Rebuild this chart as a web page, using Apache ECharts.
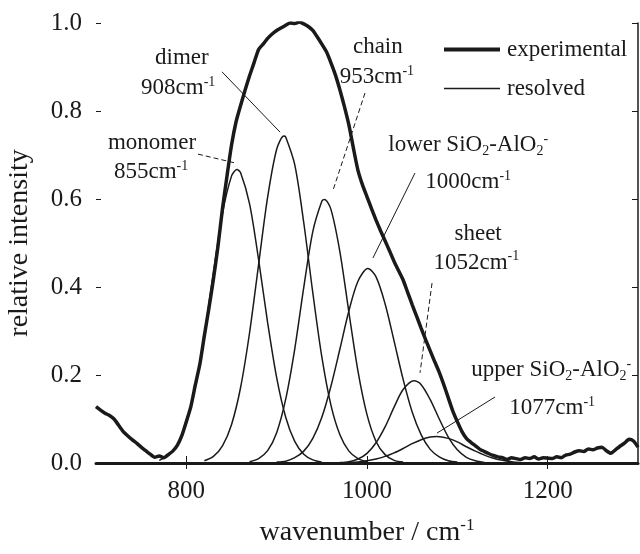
<!DOCTYPE html>
<html>
<head>
<meta charset="utf-8">
<script src="https://cdn.jsdelivr.net/npm/echarts@6/dist/echarts.min.js"></script>
<style>
html, body { margin: 0; padding: 0; background: #fff; }
#irFit { width: 640px; height: 554px; }
</style>
</head>
<body>
<div id="irFit"></div>
<script>
// 刻度
const xTicks = [800, 1000, 1200]
const yTicks = [0, 0.2, 0.4, 0.6, 0.8, 1.0]

// experimental spectrum [wavenumber, intensity]
const experimental = [
    [700, 0.128], [705, 0.120], [710, 0.113], [715, 0.108], [720, 0.100], [725, 0.086], [730, 0.072],
    [735, 0.062], [740, 0.053], [745, 0.045], [750, 0.036], [755, 0.028], [760, 0.020], [765, 0.013],
    [770, 0.016], [775, 0.012], [780, 0.019], [785, 0.027], [790, 0.040], [795, 0.062], [800, 0.094],
    [805, 0.128], [810, 0.178], [815, 0.225], [820, 0.290], [825, 0.352], [830, 0.418], [835, 0.492],
    [840, 0.578], [845, 0.652], [850, 0.722], [855, 0.775], [860, 0.812], [865, 0.847], [870, 0.880],
    [875, 0.910], [880, 0.940], [885, 0.952], [890, 0.965], [895, 0.975], [900, 0.983], [905, 0.989],
    [910, 0.995], [915, 1.000], [920, 0.999], [925, 1.002], [930, 0.998], [935, 0.992], [940, 0.983],
    [945, 0.968], [950, 0.952], [955, 0.935], [960, 0.910], [965, 0.882], [970, 0.848], [975, 0.810],
    [980, 0.768], [985, 0.715], [990, 0.665], [995, 0.632], [1000, 0.605], [1005, 0.578], [1010, 0.552],
    [1015, 0.528], [1020, 0.505], [1025, 0.482], [1030, 0.458], [1035, 0.437], [1040, 0.416], [1045, 0.388],
    [1050, 0.360], [1055, 0.333], [1060, 0.306], [1065, 0.280], [1070, 0.255], [1075, 0.230], [1080, 0.206],
    [1085, 0.178], [1090, 0.148], [1095, 0.118], [1100, 0.094], [1105, 0.072], [1110, 0.056], [1115, 0.047],
    [1120, 0.039], [1125, 0.031], [1130, 0.026], [1135, 0.021], [1140, 0.017], [1145, 0.014], [1150, 0.012],
    [1155, 0.008], [1160, 0.012], [1165, 0.010], [1170, 0.008], [1175, 0.012], [1180, 0.010], [1185, 0.014],
    [1190, 0.009], [1195, 0.012], [1200, 0.011], [1205, 0.010], [1210, 0.014], [1215, 0.012], [1220, 0.018],
    [1225, 0.020], [1230, 0.025], [1235, 0.028], [1240, 0.026], [1245, 0.032], [1250, 0.030], [1255, 0.034],
    [1260, 0.036], [1265, 0.028], [1270, 0.022], [1275, 0.030], [1280, 0.038], [1285, 0.045], [1290, 0.054],
    [1295, 0.050], [1300, 0.036]
]

// resolved bands
const monomer = [
    [770, 0.006], [780, 0.017], [790, 0.041], [800, 0.090], [810, 0.173], [820, 0.292], [830, 0.433],
    [840, 0.567], [850, 0.652], [856, 0.667], [860, 0.660], [870, 0.589], [880, 0.462], [890, 0.319],
    [900, 0.194], [910, 0.104], [920, 0.049], [930, 0.020], [940, 0.007], [950, 0.002]
]
const dimer = [
    [820, 0.005], [830, 0.015], [840, 0.039], [850, 0.087], [860, 0.171], [870, 0.296], [880, 0.451],
    [890, 0.604], [900, 0.713], [908, 0.743], [910, 0.741], [920, 0.678], [930, 0.546], [940, 0.387],
    [950, 0.241], [960, 0.132], [970, 0.064], [980, 0.027], [990, 0.010], [1000, 0.003]
]
const chain = [
    [870, 0.003], [880, 0.010], [890, 0.028], [900, 0.069], [910, 0.145], [920, 0.259], [930, 0.399],
    [940, 0.526], [950, 0.595], [953, 0.599], [960, 0.577], [970, 0.480], [980, 0.342], [990, 0.209],
    [1000, 0.110], [1010, 0.049], [1020, 0.019], [1030, 0.006], [1040, 0.002]
]
const lowerSiAl = [
    [900, 0.002], [910, 0.004], [920, 0.012], [930, 0.027], [940, 0.056], [950, 0.104], [960, 0.174],
    [970, 0.259], [980, 0.346], [990, 0.413], [1001, 0.442], [1010, 0.423], [1020, 0.362], [1030, 0.277],
    [1040, 0.190], [1050, 0.116], [1060, 0.064], [1070, 0.031], [1080, 0.014], [1090, 0.005], [1100, 0.002]
]
const sheet = [
    [970, 0.001], [980, 0.003], [990, 0.009], [1000, 0.022], [1010, 0.046], [1020, 0.082], [1030, 0.127],
    [1040, 0.167], [1052, 0.187], [1060, 0.178], [1070, 0.144], [1080, 0.100], [1090, 0.059], [1100, 0.030],
    [1110, 0.013], [1120, 0.005], [1130, 0.001]
]
const upperSiAl = [
    [980, 0.001], [990, 0.002], [1000, 0.005], [1010, 0.009], [1020, 0.015], [1030, 0.023], [1040, 0.033],
    [1050, 0.044], [1060, 0.053], [1070, 0.059], [1077, 0.060], [1090, 0.056], [1100, 0.048], [1110, 0.037],
    [1120, 0.027], [1130, 0.018], [1140, 0.011], [1150, 0.006], [1160, 0.003], [1170, 0.001]
]

const serif = "'Liberation Serif', 'DejaVu Serif', serif"
const ink = '#1a1a1a'

// band labels, anchored in data coordinates
const notes = [
    { text: 'dimer', at: [795, 0.920] },
    { text: '908cm{sup|-1}', at: [791, 0.852] },
    { text: 'monomer', at: [762, 0.727] },
    { text: '855cm{sup|-1}', at: [761, 0.661] },
    { text: 'chain', at: [1012, 0.945] },
    { text: '953cm{sup|-1}', at: [1011, 0.877] },
    { text: 'lower SiO{sub|2}-AlO{sub|2}{sup|-}', at: [1112, 0.723] },
    { text: '1000cm{sup|-1}', at: [1112, 0.639] },
    { text: 'sheet', at: [1123, 0.520] },
    { text: '1052cm{sup|-1}', at: [1121, 0.455] },
    { text: 'upper SiO{sub|2}-AlO{sub|2}{sup|-}', at: [1204, 0.211] },
    { text: '1077cm{sup|-1}', at: [1205, 0.125] }
]
const leaders = [
    { from: [839.5, 0.889], to: [903.7, 0.752], dashed: false },
    { from: [812.9, 0.702], to: [853.9, 0.682], dashed: true },
    { from: [997.8, 0.841], to: [962.4, 0.620], dashed: true },
    { from: [1053.1, 0.659], to: [1006.6, 0.466], dashed: false },
    { from: [1072.0, 0.409], to: [1058.7, 0.205], dashed: true },
    { from: [1141.7, 0.150], to: [1077.5, 0.068], dashed: false }
]

const richText = {
    sup: { fontFamily: serif, fontSize: 14, verticalAlign: 'top', lineHeight: 14, fill: ink, color: ink },
    sub: { fontFamily: serif, fontSize: 14, verticalAlign: 'bottom', lineHeight: 14, fill: ink, color: ink }
}

const chart = echarts.init(document.getElementById('irFit'))

function band (data) {
    return {
        name: 'resolved',
        type: 'line',
        data: data,
        smooth: 0.3,
        symbol: 'none',
        itemStyle: { color: ink },
        lineStyle: { color: ink, width: 1.5 },
        z: 2
    }
}

const option = {
    animation: false,
    backgroundColor: '#fff',
    grid: { left: 96, right: 2, top: 23, bottom: 91, outerBoundsMode: 'none' },
    legend: {
        orient: 'vertical',
        left: 437,
        top: 33,
        itemWidth: 56,
        itemHeight: 14,
        itemGap: 16,
        data: [
            { name: 'experimental', lineStyle: { color: ink, width: 4 } },
            { name: 'resolved', lineStyle: { color: ink, width: 1.5 } }
        ],
        itemStyle: { opacity: 0 },
        textStyle: { fontFamily: serif, fontSize: 23, color: ink, padding: [0, 0, 0, 2] }
    },
    xAxis: [{
        type: 'value',
        min: 700,
        max: 1300,
        name: 'wavenumber / cm{sup|-1}',
        nameLocation: 'middle',
        nameGap: 54,
        nameTextStyle: {
            fontFamily: serif, fontSize: 28, color: ink, lineHeight: 32,
            rich: { sup: { fontFamily: serif, fontSize: 17, verticalAlign: 'top', lineHeight: 17, color: ink } }
        },
        axisLine: { show: true, lineStyle: { color: ink, width: 3 } },
        axisTick: { show: true, inside: true, length: 7, customValues: xTicks, lineStyle: { color: ink, width: 1 } },
        axisLabel: {
            customValues: xTicks, margin: 16, fontFamily: serif, fontSize: 25, color: ink,
            formatter: function (v) { return String(v) }
        },
        splitLine: { show: false }
    }, {
        type: 'value',
        position: 'top',
        min: 700,
        max: 1300,
        axisLine: { show: false },
        axisTick: { show: true, inside: true, length: 6, customValues: xTicks, lineStyle: { color: ink, width: 1 } },
        axisLabel: { show: false },
        splitLine: { show: false }
    }],
    yAxis: [{
        type: 'value',
        min: 0,
        max: 1.0,
        name: 'relative intensity',
        nameLocation: 'middle',
        nameGap: 62,
        nameTextStyle: { fontFamily: serif, fontSize: 28, color: ink },
        axisLine: { show: false },
        axisTick: { show: true, inside: true, length: 5, customValues: yTicks, lineStyle: { color: ink, width: 1 } },
        axisLabel: {
            customValues: yTicks, margin: 14, fontFamily: serif, fontSize: 25, color: ink,
            formatter: function (v) { return v.toFixed(1) }
        },
        splitLine: { show: false }
    }, {
        type: 'value',
        position: 'right',
        min: 0,
        max: 1.0,
        axisLine: { show: true, lineStyle: { color: ink, width: 1.5 } },
        axisTick: { show: true, inside: true, length: 6, customValues: yTicks, lineStyle: { color: ink, width: 1 } },
        axisLabel: { show: false },
        splitLine: { show: false }
    }],
    series: [{
        name: 'experimental',
        type: 'line',
        data: experimental,
        symbol: 'none',
        smooth: 0.2,
        itemStyle: { color: ink },
        lineStyle: { color: ink, width: 3.5 },
        z: 3
    },
    band(monomer),
    band(dimer),
    band(chain),
    band(lowerSiAl),
    band(sheet),
    band(upperSiAl)]
}

chart.setOption(option)

// labels and leader lines in pixels after the axes exist
const px = function (p) { return chart.convertToPixel({ gridIndex: 0 }, p) }
const graphic = []
notes.forEach(function (n) {
    const p = px(n.at)
    graphic.push({
        type: 'text',
        x: p[0],
        y: p[1],
        z: 10,
        style: {
            text: n.text,
            fontFamily: serif,
            fontSize: 23,
            lineHeight: 26,
            fill: ink,
            align: 'center',
            verticalAlign: 'middle',
            rich: richText
        }
    })
})
leaders.forEach(function (l) {
    const a = px(l.from)
    const b = px(l.to)
    graphic.push({
        type: 'line',
        z: 10,
        shape: { x1: a[0], y1: a[1], x2: b[0], y2: b[1] },
        style: { stroke: ink, lineWidth: 1, lineDash: l.dashed ? [5, 3] : null }
    })
})
chart.setOption({ graphic: graphic })
</script>
</body>
</html>
